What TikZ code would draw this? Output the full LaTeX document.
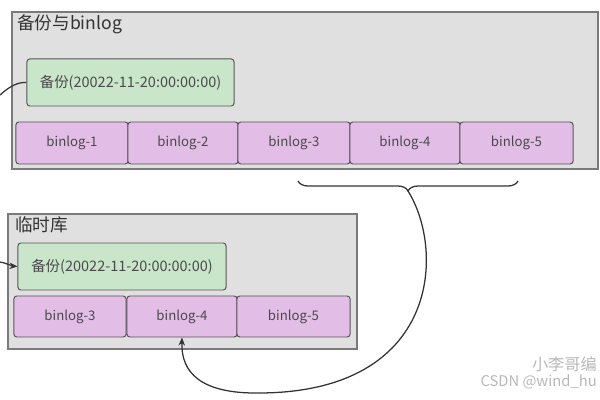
\documentclass[tikz,border=0pt]{standalone}
\usepackage{fontspec}
\setmainfont{Noto Sans CJK SC}
\usetikzlibrary{arrows.meta,decorations.pathreplacing,positioning}
\definecolor{groupfill}{HTML}{E0E0E0}
\definecolor{groupline}{HTML}{7A7A7A}
\definecolor{bakfill}{HTML}{C9E6CA}
\definecolor{logfill}{HTML}{E2BDE6}
\definecolor{boxline}{HTML}{555555}
\definecolor{ink}{HTML}{333333}
\definecolor{label}{HTML}{4A4A4A}
\definecolor{wmark}{HTML}{B8B8B8}
\tikzset{
  % ---- containers ------------------------------------------------
  group/.style     = {draw=groupline, fill=groupfill, line width=.9pt,
                      inner sep=0pt},
  grouptag/.style  = {font=\fontsize{12.5}{14}\selectfont, text=ink,
                      anchor=north west, inner sep=0pt},
  % ---- backup and log boxes --------------------------------------
  backup/.style    = {draw=boxline, fill=bakfill, line width=.7pt,
                      rounded corners=2pt, inner sep=0pt,
                      minimum height=1.175cm,
                      font=\fontsize{10.3}{12}\selectfont, text=label},
  logbox/.style    = {draw=boxline, fill=logfill, line width=.7pt,
                      rounded corners=2pt, inner sep=0pt,
                      font=\fontsize{9.4}{11}\selectfont, text=label},
  % ---- connectors ------------------------------------------------
  link/.style      = {draw=ink, line width=.9pt},
  feed/.style      = {link, -{Stealth[length=2mm,width=1.6mm]}},
  span/.style      = {draw=ink, line width=.9pt,
                      decorate, decoration={brace, amplitude=.25cm}},
  wm/.style        = {text=wmark, inner sep=0pt, anchor=east},
}
\begin{document}
\begin{tikzpicture}[x=0.025cm, y=-0.025cm]
  \useasboundingbox (0,0) rectangle (600,400);
  % ---- full backup with binlog -------------------------------------
  \node[group, minimum width=14.65cm, minimum height=3.925cm] (G1) at (305,90.5) {};
  \node[grouptag] (T1) at (17,14) {备份与binlog};
  \node[backup, minimum width=5.175cm] (bak1) at (130.5,82.5) {备份(20022-11-20:00:00:00)};
  \node[logbox, minimum width=2.8cm, minimum height=1.05cm] (a1) at (72,143) {binlog-1};
  \node[logbox, minimum width=2.75cm, minimum height=1.05cm] (a2) at (183,143) {binlog-2};
  \node[logbox, minimum width=2.8cm, minimum height=1.05cm] (a3) at (294,143) {binlog-3};
  \node[logbox, minimum width=2.75cm, minimum height=1.05cm] (a4) at (405,143) {binlog-4};
  \node[logbox, minimum width=2.825cm, minimum height=1.05cm] (a5) at (516.5,143) {binlog-5};
  % ---- temporary instance ------------------------------------------
  \node[group, minimum width=8.725cm, minimum height=3.375cm] (G2) at (182.5,281.5) {};
  \node[grouptag] (T2) at (15,216) {临时库};
  \node[backup, minimum width=5.2cm] (bak2) at (122,266.5) {备份(20022-11-20:00:00:00)};
  \node[logbox, minimum width=2.8cm, minimum height=1.025cm] (b3) at (70,316.5) {binlog-3};
  \node[logbox, minimum width=2.75cm, minimum height=1.025cm] (b4) at (182,316.5) {binlog-4};
  \node[logbox, minimum width=2.825cm, minimum height=1.025cm] (b5) at (293.5,316.5) {binlog-5};
  % ---- replayed range ----------------------------------------------
  \coordinate (brR) at (518,181);
  \coordinate (brL) at (298,181);
  \coordinate (brtip) at (408,191);
  \coordinate (loop) at (260,393);
  \draw[span] (brR) -- (brL);
  \draw[link] (brtip) .. controls (445,250) and (440,392) .. (loop);
  \draw[feed] (loop) .. controls (200,394) and (181,372) .. (b4.south);
  % ---- incoming from the left --------------------------------------
  \coordinate (in1) at (0,95);
  \coordinate (in2) at (0,262);
  \draw[link] (in1) .. controls (10,86) and (18,82) .. (bak1.west);
  \draw[feed] (in2) .. controls (6,263) and (12,266) .. (bak2.west);
  % ---- watermark ---------------------------------------------------
  \node[wm, font=\fontsize{11.5}{13}\selectfont] (wm1) at (597,364) {小李哥编};
  \node[wm, font=\fontsize{10.5}{12}\selectfont] (wm2) at (597,382) {CSDN @wind\_hu};
\end{tikzpicture}
\end{document}
